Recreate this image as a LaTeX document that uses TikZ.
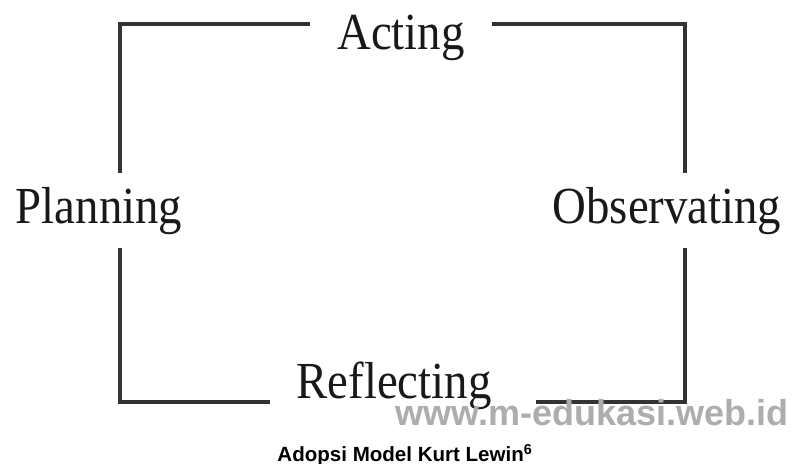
\documentclass[tikz,border=0pt]{standalone}
\usepackage{fontspec}
\usepackage{graphicx}
\usepackage{xcolor}
\usepackage{tikz}
\usetikzlibrary{positioning, calc}

\newfontfamily\stageserif{Liberation Serif}
\newfontfamily\captionsans{Liberation Sans}
\newcommand{\stagetext}[1]{\scalebox{0.9}[1]{#1}}

\begin{document}
\begin{tikzpicture}[
    x=0.75pt, y=-0.75pt,
    stage/.style={inner xsep=20pt, inner ysep=10.5pt, text=black!90, font=\stageserif\fontsize{39}{42}\selectfont},
    cycleline/.style={draw=black!80, line width=2.6pt},
    watermark/.style={inner sep=0pt, text=black!32, font=\captionsans\bfseries\fontsize{27}{30}\selectfont},
    caption/.style={inner sep=0pt, font=\captionsans\bfseries\fontsize{15.4}{18}\selectfont}
]
\useasboundingbox (0,0) rectangle (797,464);

% corners of the cycle
\coordinate (tl) at (120,24);
\coordinate (tr) at (685,24);
\coordinate (bl) at (120,402);
\coordinate (br) at (685,402);

\node[stage, anchor=base] (acting) at (401,50) {\stagetext{Acting}};
\node[stage, anchor=base] (planning) at (99,223) {\stagetext{Planning}};
\node[stage, anchor=base] (observating) at (667,223) {\stagetext{Observating}};
\node[stage, anchor=base] (reflecting) at (394,398) {\stagetext{Reflecting}};

\draw[cycleline] (tl -| acting.west) -- (tl) -- (tl |- planning.north);
\draw[cycleline] (tr -| acting.east) -- (tr) -- (tr |- observating.north);
\draw[cycleline] (bl |- planning.south) -- (bl) -- (bl -| reflecting.west);
\draw[cycleline] ($(br -| reflecting.east)+(18,0)$) -- (br) -- (br |- observating.south);

\node[watermark, anchor=base] (site) at (592,425) {www.m-edukasi.web.id};
\node[caption, anchor=base] (title) at (405,461) {Adopsi Model Kurt Lewin\textsuperscript{6}};

\end{tikzpicture}
\end{document}
